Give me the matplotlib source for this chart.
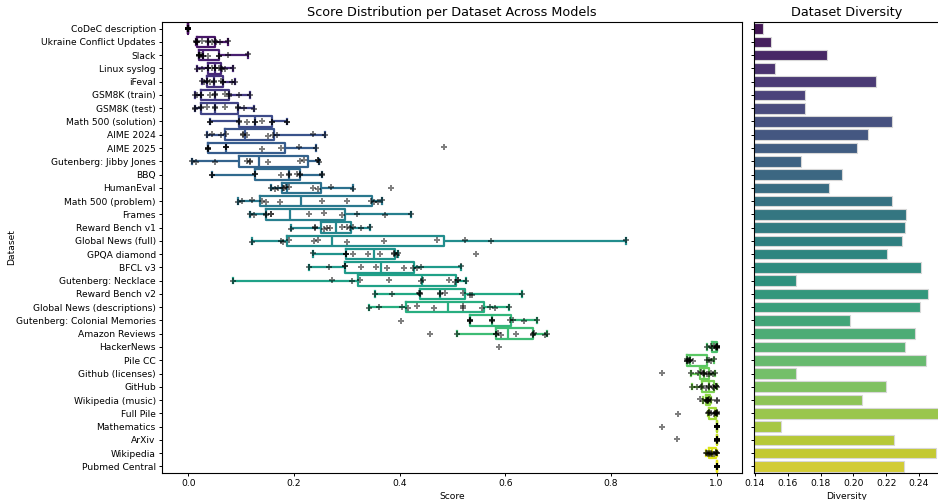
import numpy as np
import pandas as pd
import matplotlib
matplotlib.use("Agg")
import matplotlib.pyplot as plt
import seaborn as sns

datasets = [
    "CoDeC description", "Ukraine Conflict Updates", "Slack", "Linux syslog", "iFeval",
    "GSM8K (train)", "GSM8K (test)", "Math 500 (solution)", "AIME 2024", "AIME 2025",
    "Gutenberg: Jibby Jones", "BBQ", "HumanEval", "Math 500 (problem)", "Frames",
    "Reward Bench v1", "Global News (full)", "GPQA diamond", "BFCL v3", "Gutenberg: Necklace",
    "Reward Bench v2", "Global News (descriptions)", "Gutenberg: Colonial Memories",
    "Amazon Reviews", "HackerNews", "Pile CC", "Github (licenses)", "GitHub",
    "Wikipedia (music)", "Full Pile", "Mathematics", "ArXiv", "Wikipedia", "Pubmed Central",
]

# per-model scores for each dataset (same order as datasets)
scores = [
    [0.0] * 12,
    [0.015, 0.015, 0.017, 0.017, 0.025, 0.038, 0.038, 0.045, 0.050, 0.052, 0.060, 0.074],
    [0.020, 0.020, 0.020, 0.020, 0.024, 0.028, 0.028, 0.038, 0.057, 0.057, 0.074, 0.112],
    [0.016, 0.025, 0.037, 0.037, 0.045, 0.051, 0.051, 0.058, 0.062, 0.064, 0.070, 0.085],
    [0.026, 0.030, 0.036, 0.036, 0.041, 0.048, 0.048, 0.061, 0.066, 0.066, 0.083, 0.088],
    [0.013, 0.016, 0.023, 0.023, 0.040, 0.050, 0.050, 0.070, 0.076, 0.076, 0.095, 0.116],
    [0.013, 0.013, 0.023, 0.023, 0.035, 0.050, 0.050, 0.070, 0.094, 0.094, 0.105, 0.124],
    [0.040, 0.040, 0.096, 0.096, 0.110, 0.126, 0.126, 0.140, 0.158, 0.158, 0.187, 0.187],
    [0.036, 0.045, 0.062, 0.072, 0.104, 0.104, 0.110, 0.151, 0.160, 0.168, 0.236, 0.258],
    [0.037, 0.037, 0.037, 0.037, 0.071, 0.071, 0.071, 0.140, 0.175, 0.210, 0.242, 0.484],
    [0.006, 0.014, 0.050, 0.111, 0.117, 0.117, 0.150, 0.211, 0.219, 0.245, 0.245, 0.247],
    [0.045, 0.045, 0.127, 0.127, 0.176, 0.190, 0.190, 0.205, 0.211, 0.211, 0.252, 0.252],
    [0.157, 0.164, 0.170, 0.180, 0.181, 0.185, 0.190, 0.236, 0.245, 0.270, 0.311, 0.384],
    [0.094, 0.102, 0.120, 0.140, 0.146, 0.174, 0.252, 0.300, 0.346, 0.352, 0.358, 0.366],
    [0.117, 0.124, 0.146, 0.146, 0.157, 0.157, 0.228, 0.256, 0.290, 0.319, 0.373, 0.422],
    [0.195, 0.239, 0.239, 0.256, 0.262, 0.268, 0.290, 0.300, 0.306, 0.311, 0.326, 0.343],
    [0.121, 0.175, 0.180, 0.190, 0.238, 0.245, 0.300, 0.370, 0.470, 0.523, 0.572, 0.828],
    [0.236, 0.298, 0.298, 0.298, 0.312, 0.340, 0.362, 0.390, 0.390, 0.395, 0.397, 0.544],
    [0.228, 0.266, 0.297, 0.297, 0.327, 0.355, 0.376, 0.408, 0.425, 0.433, 0.440, 0.516],
    [0.084, 0.271, 0.310, 0.325, 0.380, 0.440, 0.445, 0.494, 0.505, 0.510, 0.510, 0.525],
    [0.353, 0.386, 0.436, 0.438, 0.438, 0.477, 0.477, 0.486, 0.520, 0.533, 0.537, 0.631],
    [0.341, 0.360, 0.405, 0.415, 0.433, 0.465, 0.519, 0.519, 0.555, 0.570, 0.580, 0.607],
    [0.403, 0.534, 0.534, 0.534, 0.534, 0.574, 0.574, 0.574, 0.608, 0.615, 0.636, 0.659],
    [0.457, 0.509, 0.582, 0.582, 0.587, 0.591, 0.620, 0.652, 0.652, 0.655, 0.675, 0.678],
    [0.588, 0.982, 0.990, 0.992, 0.995, 0.998, 1.0, 1.0, 1.0, 1.0, 1.0, 1.0],
    [0.943, 0.943, 0.943, 0.945, 0.947, 0.949, 0.949, 0.956, 0.981, 0.986, 0.989, 0.995],
    [0.897, 0.951, 0.965, 0.970, 0.975, 0.977, 0.977, 0.981, 0.985, 0.990, 0.994, 0.996],
    [0.954, 0.962, 0.970, 0.972, 0.980, 0.985, 0.985, 0.993, 0.995, 0.998, 0.998, 1.0],
    [0.969, 0.975, 0.980, 0.981, 0.982, 0.983, 0.983, 0.984, 0.986, 0.990, 1.0, 1.0],
    [0.927, 0.983, 0.985, 0.986, 0.990, 0.995, 0.997, 0.998, 0.998, 1.0, 1.0, 1.0],
    [0.896] + [1.0] * 11,
    [0.925] + [1.0] * 11,
    [0.979, 0.981, 0.984, 0.986, 0.988, 0.990, 0.992, 0.995, 0.998, 0.998, 1.0, 1.0],
    [1.0] * 12,
]

diversity = [
    0.1451, 0.1498, 0.1841, 0.1522, 0.2140, 0.1705, 0.1705, 0.2237, 0.2087, 0.2020,
    0.1680, 0.1932, 0.1853, 0.2237, 0.2321, 0.2317, 0.2296, 0.2203, 0.2410, 0.1650,
    0.2453, 0.2406, 0.1977, 0.2376, 0.2315, 0.2441, 0.1650, 0.2197, 0.2054, 0.2545,
    0.1556, 0.2249, 0.2504, 0.2307,
]

np.random.seed(3)

long_df = pd.DataFrame(
    [(name, s) for name, vals in zip(datasets, scores) for s in vals],
    columns=["Dataset", "Score"],
)
div_df = pd.DataFrame({"Dataset": datasets, "Diversity": diversity})

TICK_FS = 6.6
TITLE_FS = 9.2

W, H = 938, 500
fig = plt.figure(figsize=(W / 100, H / 100), dpi=100)
ax = fig.add_axes([162 / W, 1 - 473 / H, 580 / W, 451 / H])
ax2 = fig.add_axes([754 / W, 1 - 473 / H, 186 / W, 451 / H], sharey=ax)

sns.boxplot(
    data=long_df, x="Score", y="Dataset", hue="Dataset", order=datasets,
    palette="viridis", fill=False, showfliers=False, linewidth=1.6,
    legend=False, ax=ax,
)
sns.stripplot(
    data=long_df, x="Score", y="Dataset", order=datasets, color="black",
    alpha=0.5, marker="P", size=4.4, jitter=0.08, ax=ax,
)
ax.set_xlim(-0.05, 1.048)
ax.set_title("Score Distribution per Dataset Across Models", fontsize=TITLE_FS, pad=4)
ax.set_xlabel("Score", fontsize=TICK_FS, labelpad=3)
ax.set_ylabel("Dataset", fontsize=TICK_FS)
ax.yaxis.set_label_coords(-0.252, 0.5)
ax.tick_params(labelsize=TICK_FS, length=2.5, width=0.7, pad=2)

sns.barplot(
    data=div_df, x="Diversity", y="Dataset", hue="Dataset", order=datasets,
    palette="viridis", edgecolor="#d8d8d8", linewidth=0.8, legend=False, ax=ax2,
)
ax2.set_xlim(0.1394, 0.2528)
ax2.set_xticks([0.14, 0.16, 0.18, 0.20, 0.22, 0.24])
ax2.set_title("Dataset Diversity", fontsize=TITLE_FS, pad=4)
ax2.set_xlabel("Diversity", fontsize=TICK_FS, labelpad=3)
ax2.set_ylabel("")
ax2.tick_params(labelsize=TICK_FS, length=2.5, width=0.7, pad=2, labelleft=False)

for a in (ax, ax2):
    for sp in a.spines.values():
        sp.set_linewidth(0.8)

fig.savefig("out.png", dpi=100)
